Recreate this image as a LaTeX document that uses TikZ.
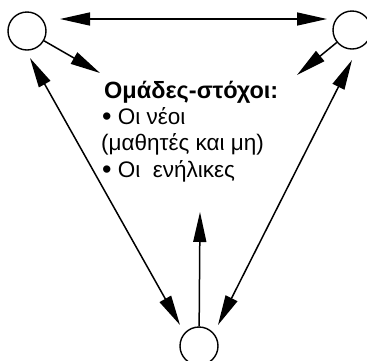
\documentclass[tikz,border=0pt]{standalone}
\usepackage{fontspec}
\usepackage{graphicx}
\setmainfont{Liberation Sans}
\usetikzlibrary{arrows.meta,calc}
\newcommand{\bigbul}{\raisebox{-1.5pt}{\fontsize{27}{27}\selectfont•}}
\begin{document}
\begin{tikzpicture}[x=1pt,y=1pt,
  circ/.style={draw,circle,line width=1.4pt,minimum size=38pt,inner sep=0pt},
  conn/.style={line width=1.5pt,-{Triangle[length=30pt,width=13pt]}},
  dconn/.style={line width=1.5pt,{Triangle[length=30pt,width=13pt]}-{Triangle[length=30pt,width=13pt]}},
  lbl/.style={align=left,inner sep=0pt,font=\fontsize{22.5}{26.3}\selectfont}]
\useasboundingbox (0,0) rectangle (367,-360);
\node[circ] (A) at (27,-31) {};
\node[circ] (B) at (352,-30) {};
\node[circ] (C) at (199,-346) {};
\node[lbl,anchor=base west] (T) at (101,-177) {\hspace{3pt}\resizebox{174pt}{\height}{\fontsize{23.5}{26.3}\selectfont\textbf{Ομάδες-στόχοι:}}\\\hspace{1pt}\bigbul\ Οι νέοι\\(μαθητές και μη)\\\hspace{1pt}\bigbul\ Οι\ \ ενήλικες};
\coordinate (a1) at ($(A.center)+(33,12)$);
\coordinate (b1) at ($(B.center)+(-25,11)$);
\coordinate (ta) at ($(T.base west)+(-1,104)$);
\coordinate (tb) at ($(T.base west)+(196,102)$);
\coordinate (al) at ($(A.center)+(3,-27)$);
\coordinate (cl) at ($(C.center)+(-19,21)$);
\coordinate (br) at ($(B.center)+(0,-30)$);
\coordinate (cr) at ($(C.center)+(19,21)$);
\coordinate (ct) at ($(C.center)+(1,134)$);
\draw[dconn] (a1) -- (b1);
\draw[conn] (A) -- (ta);
\draw[conn] (B) -- (tb);
\draw[dconn] (al) -- (cl);
\draw[dconn] (br) -- (cr);
\draw[conn] (C) -- (ct);
\end{tikzpicture}
\end{document}
